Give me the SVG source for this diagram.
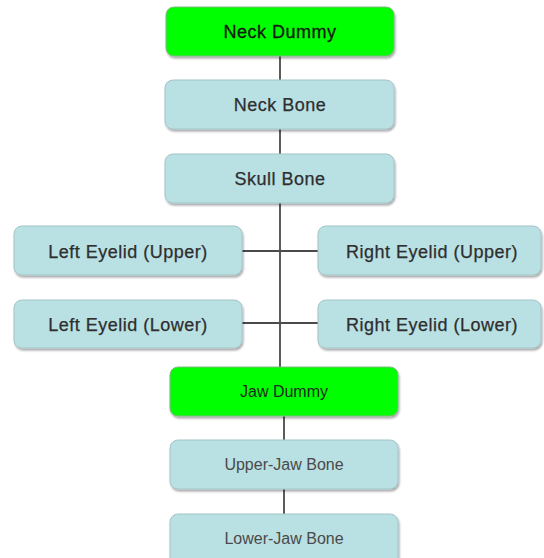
<svg xmlns="http://www.w3.org/2000/svg" width="544" height="558" viewBox="0 0 544 558">
<defs>
<filter id="sh" x="-5%" y="-10%" width="110%" height="130%">
<feGaussianBlur in="SourceAlpha" stdDeviation="1.2"/>
<feOffset dx="0.5" dy="1.5" result="b"/>
<feComponentTransfer><feFuncA type="linear" slope="0.35"/></feComponentTransfer>
<feMerge><feMergeNode/><feMergeNode in="SourceGraphic"/></feMerge>
</filter>
</defs>
<style>
.bone{fill:#b9e0e3;stroke:#a3c4c7;stroke-width:1;filter:url(#sh)}
.dummy{fill:#00ff00;stroke:#7fb87f;stroke-width:1;filter:url(#sh)}
.big{font-family:"Liberation Sans",Arial,sans-serif;font-size:18px;letter-spacing:0.5px;text-anchor:middle;fill:#2e2e2e;stroke:#2e2e2e;stroke-width:0.25}
.bigd{font-family:"Liberation Sans",Arial,sans-serif;font-size:18px;letter-spacing:0.5px;text-anchor:middle;fill:#101810;stroke:#101810;stroke-width:0.3}
.small{font-family:"Liberation Sans",Arial,sans-serif;font-size:16px;text-anchor:middle;fill:#4a4a4a}
.smalld{font-family:"Liberation Sans",Arial,sans-serif;font-size:16px;text-anchor:middle;fill:#1e2a1e}
.conn{stroke:#4a4a4a;stroke-width:1.8;fill:none}
</style>
<rect width="544" height="558" fill="#ffffff"/>
<g id="connectors">
<line class="conn" x1="280" y1="56" x2="280" y2="80"/>
<line class="conn" x1="280" y1="129" x2="280" y2="154"/>
<line class="conn" x1="280" y1="203" x2="280" y2="367"/>
<line class="conn" x1="242" y1="251" x2="318" y2="251"/>
<line class="conn" x1="242" y1="323" x2="318" y2="323"/>
<line class="conn" x1="284" y1="416" x2="284" y2="440"/>
<line class="conn" x1="284" y1="489" x2="284" y2="514"/>
</g>
<g id="neck-dummy">
<rect class="dummy" x="166" y="7" width="228" height="49" rx="8"/>
<text class="bigd" x="280" y="38">Neck Dummy</text>
</g>
<g id="neck-bone">
<rect class="bone" x="165" y="80" width="229" height="49" rx="8"/>
<text class="big" x="280" y="111">Neck Bone</text>
</g>
<g id="skull-bone">
<rect class="bone" x="165" y="154" width="229" height="49" rx="8"/>
<text class="big" x="280" y="185">Skull Bone</text>
</g>
<g id="left-eyelid-upper">
<rect class="bone" x="14" y="226" width="228" height="49" rx="8"/>
<text class="big" x="128" y="258">Left Eyelid (Upper)</text>
</g>
<g id="right-eyelid-upper">
<rect class="bone" x="318" y="226" width="223" height="49" rx="8"/>
<text class="big" x="432" y="258">Right Eyelid (Upper)</text>
</g>
<g id="left-eyelid-lower">
<rect class="bone" x="14" y="300" width="228" height="48" rx="8"/>
<text class="big" x="128" y="331">Left Eyelid (Lower)</text>
</g>
<g id="right-eyelid-lower">
<rect class="bone" x="318" y="300" width="223" height="48" rx="8"/>
<text class="big" x="432" y="331">Right Eyelid (Lower)</text>
</g>
<g id="jaw-dummy">
<rect class="dummy" x="170" y="367" width="228" height="49" rx="8"/>
<text class="smalld" x="284" y="397">Jaw Dummy</text>
</g>
<g id="upper-jaw-bone">
<rect class="bone" x="170" y="440" width="228" height="49" rx="8"/>
<text class="small" x="284" y="470">Upper-Jaw Bone</text>
</g>
<g id="lower-jaw-bone">
<rect class="bone" x="170" y="514" width="228" height="60" rx="8"/>
<text class="small" x="284" y="544">Lower-Jaw Bone</text>
</g>
</svg>
